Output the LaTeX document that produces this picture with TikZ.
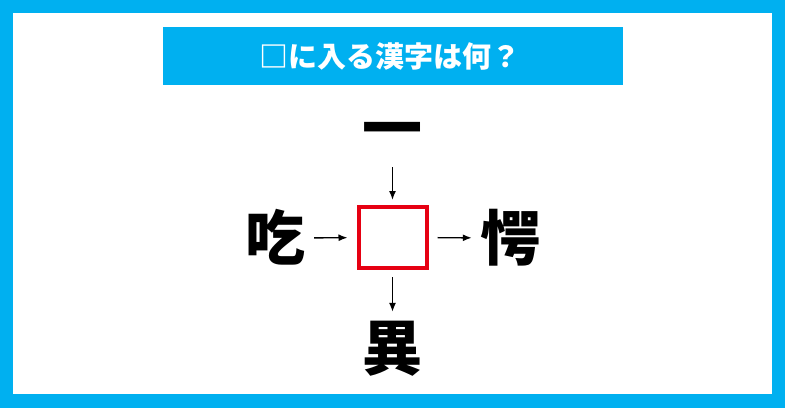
\documentclass[tikz,border=0pt]{standalone}
\usepackage{fontspec}
\usetikzlibrary{arrows.meta}
\newfontfamily\jpfont{Noto Sans CJK JP}
\definecolor{frameblue}{RGB}{0,176,240}
\definecolor{boxred}{RGB}{230,0,18}
\tikzset{
    kanji/.style={font=\jpfont\bfseries\fontsize{60}{60}\selectfont, inner sep=0pt,
        text height=52.8pt, text depth=7.2pt, text width=60pt, align=center},
    link/.style={-{Latex[length=9pt, width=7pt]}, line width=1.4pt}
}
\begin{document}
\begin{tikzpicture}[x=1pt, y=-1pt]
        \useasboundingbox (0, 0) rectangle (785, 408);
        \fill[frameblue] (0, 0) rectangle (785, 408);
        \fill[white] (13, 13) rectangle (772, 394);
        % title
        \fill[frameblue] (163, 27) rectangle (623, 85);
        \node[text=white, font=\jpfont\bfseries\fontsize{29}{29}\selectfont, inner sep=0pt] (title) at (390, 56) {□に入る漢字は何？};
        % puzzle
        \node[draw=boxred, line width=4pt, minimum width=68pt, minimum height=61pt, inner sep=0pt] (blank) at (392.5, 237.5) {};
        \node[kanji] (top) at (392.5, 128) {一};
        \node[kanji] (left) at (275, 238) {吃};
        \node[kanji] (right) at (510, 238) {愕};
        \node[kanji] (bottom) at (392.5, 348) {異};
        \draw[link, shorten <=9pt, shorten >=5pt] (top) -- (blank);
        \draw[link, shorten <=9pt, shorten >=9pt] (left) -- (blank);
        \draw[link, shorten <=9pt, shorten >=8pt] (blank) -- (right);
        \draw[link, shorten <=7pt, shorten >=6pt] (blank) -- (bottom);
    \end{tikzpicture}
\end{document}
